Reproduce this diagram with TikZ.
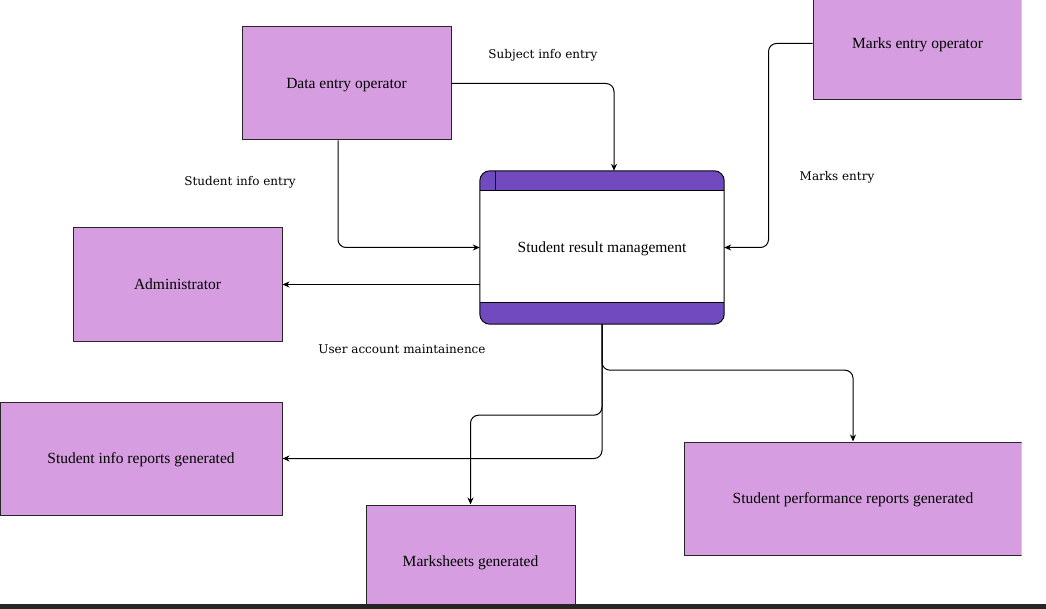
\documentclass[tikz,border=0pt]{standalone}
\usepackage{fontspec}
\setmainfont{Liberation Serif}
\newfontfamily\flowfont{DejaVu Serif}
\usetikzlibrary{arrows.meta}
\usetikzlibrary{positioning}

\begin{document}
\begin{tikzpicture}
            [x=1pt, y=-1pt,
            entity/.style={draw=black!85, line width=1pt, fill=entitycolor, minimum width=209pt, minimum height=113pt,
                inner sep=0pt, text depth=0pt, font=\fontsize{15.5}{17}\selectfont},
            process/.style={fill=white, rounded corners=10pt, minimum width=244pt,
                minimum height=153pt, inner sep=0pt, text depth=0pt, font=\fontsize{15.5}{17}\selectfont,
                path picture={
                    \begin{scope}[sharp corners, line width=1pt]
                    \fill[bandcolor] (path picture bounding box.north west) rectangle ([yshift=-20pt]path picture bounding box.north east);
                    \fill[bandcolor] (path picture bounding box.south west) rectangle ([yshift=21pt]path picture bounding box.south east);
                    \draw ([yshift=-20pt]path picture bounding box.north west) -- ([yshift=-20pt]path picture bounding box.north east);
                    \draw ([yshift=21pt]path picture bounding box.south west) -- ([yshift=21pt]path picture bounding box.south east);
                    \draw ([xshift=15pt]path picture bounding box.north west) -- ([xshift=15pt,yshift=-20pt]path picture bounding box.north west);
                    \end{scope}
                }},
            flow/.style={draw=black, line width=1pt, rounded corners=8pt, -{Stealth[length=7pt, width=6pt]}},
            lbl/.style={font=\flowfont\fontsize{12}{14}\selectfont},
            ]
            \definecolor{entitycolor}{RGB}{214,158,224}
            \definecolor{bandcolor}{RGB}{112,74,190}
            \definecolor{barcolor}{RGB}{38,36,38}
            \useasboundingbox (0,0) rectangle (1046,609);
            \begin{scope}
                \clip (0,0) rectangle (1021.5,604);
                % externals
                \node[entity] (deo) at (346.5,83.5) {Data entry operator};
                \node[entity] (meo) at (917.5,43.5) {Marks entry operator};
                \node[entity] (adm) at (177.5,284.5) {Administrator};
                \node[entity, minimum width=282pt] (sir) at (141,458.5) {Student info reports generated};
                \node[entity] (msg) at (470.5,561.5) {Marksheets generated};
                \node[entity, minimum width=338pt] (spr) at (853,498.5) {Student performance reports generated};

                % process
                \node[process] (srm) at (602,247.5) {Student result management};
                \draw[line width=1pt, rounded corners=10pt] (srm.north west) rectangle (srm.south east);

                % flows
                \draw[flow] (deo.east) -| ([xshift=12pt]srm.north);
                \draw[flow] ([xshift=-8.5pt]deo.south) |- (srm.west);
                \draw[flow] (meo.west) -- ++(-44,0) |- (srm.east);
                \draw[flow] (srm.west |- adm.east) -- (adm.east);
                \draw[flow] (srm.south) -- ++(0,46) -| (spr.north);
                \draw[flow] (srm.south) -- ++(0,91) -| (msg.north);
                \draw[flow] (srm.south) |- (sir.east);

                % labels
                \node[lbl] (lsubj) at (543,55) {Subject info entry};
                \node[lbl] (lstud) at (240,182) {Student info entry};
                \node[lbl] (lmark) at (837,177) {Marks entry};
                \node[lbl] (luser) at (402,349) {User account maintainence};
            \end{scope}
            \fill[barcolor] (0,604) rectangle (1046,609);
        \end{tikzpicture}
\end{document}
